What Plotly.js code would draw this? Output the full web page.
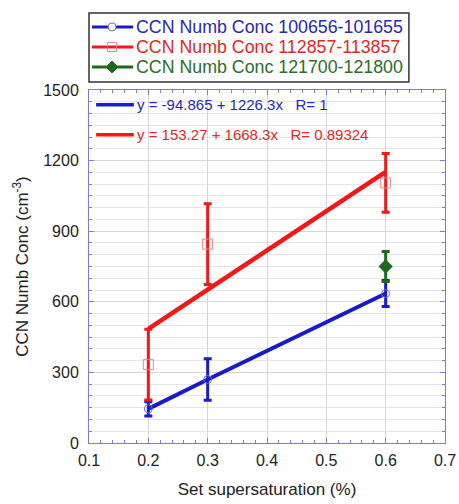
<!DOCTYPE html>
<html>
<head>
<meta charset="utf-8">
<script src="https://cdn.plot.ly/plotly-3.0.1.min.js"></script>
<style>body{margin:0;background:#fff}#chart{width:459px;height:504px}</style>
</head>
<body>
<div id="chart"></div>
<script>
// Data
const xSS = [0.2, 0.3, 0.6];
const blueY = [145, 270, 635];
const blueErr = [30, 88, 55];
const redY = [333, 845, 1105];
const redErrPlus = [150, 172, 125];
const redErrMinus = [150, 172, 125];
const redFitX = [0.2, 0.6];
const redFitY = [485, 1152];
const greenX = [0.6];
const greenY = [750];
const greenErr = [64];
const seriesNames = ["CCN Numb Conc 100656-101655", "CCN Numb Conc 112857-113857", "CCN Numb Conc 121700-121800"];
const fitTexts = ["y = -94.865 + 1226.3x   R= 1", "y = 153.27 + 1668.3x   R= 0.89324"];

const BLUE = "#1a1ac8", RED = "#f01818", GREEN = "#1d6a1d";
const BLUE_T = "#2828b4", RED_T = "#e02828", GREEN_T = "#2a6e2a";
const FONT = "Liberation Sans, Arial, sans-serif";

const traces = [
  { x: xSS, y: blueY, mode: "lines+markers", showlegend: false,
    line: {color: BLUE, width: 4},
    marker: {symbol: "circle-open", size: 8, color: "#6a6ae0", line: {width: 1}},
    error_y: {type: "data", array: blueErr, color: BLUE, thickness: 3, width: 4} },
  { x: redFitX, y: redFitY, mode: "lines", showlegend: false,
    line: {color: RED, width: 4.5} },
  { x: xSS, y: redY, mode: "markers", showlegend: false,
    marker: {symbol: "square-open", size: 10, color: "#f08080", line: {width: 1}},
    error_y: {type: "data", symmetric: false, array: redErrPlus, arrayminus: redErrMinus, color: RED, thickness: 3, width: 4} },
  { x: greenX, y: greenY, mode: "markers", showlegend: false,
    marker: {symbol: "diamond", size: 11, color: GREEN},
    error_y: {type: "data", array: greenErr, color: GREEN, thickness: 3, width: 4} }
];

const axisCommon = {
  showline: true, linecolor: "#7b7be6", linewidth: 1, mirror: "ticks",
  ticks: "inside", ticklen: 5, tickcolor: "#7b7be6",
  gridcolor: "#d6d6d6", gridwidth: 1, zeroline: false,
  tickfont: {family: FONT, size: 16, color: "#222"}
};

// manual legend geometry (paper coordinates)
const legRows = [1.1785, 1.1218, 1.0652];
const legColors = [BLUE, RED, GREEN];
const legTextColors = [BLUE_T, RED_T, GREEN_T];
const shapes = [
  {type: "rect", xref: "paper", yref: "paper", x0: 0, x1: 0.8986, y0: 1.0227, y1: 1.2181,
    fillcolor: "#fff", line: {color: "#333", width: 1.5}},
  {type: "line", xref: "paper", yref: "paper", x0: 0.02, x1: 0.126, y0: 0.958, y1: 0.958, line: {color: BLUE, width: 3.5}},
  {type: "line", xref: "paper", yref: "paper", x0: 0.02, x1: 0.126, y0: 0.873, y1: 0.873, line: {color: RED, width: 3.5}}
];
legRows.forEach((yy, i) => {
  shapes.push({type: "line", xref: "paper", yref: "paper", x0: 0.0085, x1: 0.124, y0: yy, y1: yy,
    line: {color: legColors[i], width: 3}});
});
shapes.push({type: "circle", xref: "paper", yref: "paper", xsizemode: "pixel", ysizemode: "pixel",
  xanchor: 0.0648, yanchor: legRows[0], x0: -4, x1: 4, y0: -4, y1: 4, fillcolor: "#fff", line: {color: "#6a6ae0", width: 1}});
shapes.push({type: "rect", xref: "paper", yref: "paper", xsizemode: "pixel", ysizemode: "pixel",
  xanchor: 0.0648, yanchor: legRows[1], x0: -4.5, x1: 4.5, y0: -4.5, y1: 4.5, fillcolor: "rgba(255,255,255,0)", line: {color: "#f08080", width: 1}});
shapes.push({type: "path", xref: "paper", yref: "paper", xsizemode: "pixel", ysizemode: "pixel",
  xanchor: 0.0648, yanchor: legRows[2], path: "M -6 0 L 0 6 L 6 0 L 0 -6 Z", fillcolor: GREEN, line: {color: GREEN, width: 1}});

const annotations = [
  {xref: "paper", yref: "paper", x: 0.128, y: 0.958, xanchor: "left", yanchor: "middle", showarrow: false,
    text: fitTexts[0].replace(/   /g, "&nbsp;&nbsp;&nbsp;"), font: {family: FONT, size: 15, color: BLUE_T}},
  {xref: "paper", yref: "paper", x: 0.128, y: 0.873, xanchor: "left", yanchor: "middle", showarrow: false,
    text: fitTexts[1].replace(/   /g, "&nbsp;&nbsp;&nbsp;"), font: {family: FONT, size: 15, color: RED_T}}
];
legRows.forEach((yy, i) => {
  annotations.push({xref: "paper", yref: "paper", x: 0.125, y: yy, xanchor: "left", yanchor: "middle", showarrow: false,
    text: seriesNames[i], font: {family: FONT, size: 17.8, color: legTextColors[i]}});
});

const layout = {
  width: 459, height: 504,
  margin: {l: 89, r: 14, t: 90, b: 61},
  paper_bgcolor: "#fff", plot_bgcolor: "#fff",
  showlegend: false,
  xaxis: Object.assign({}, axisCommon, {
    range: [0.1, 0.7], dtick: 0.1, tick0: 0.1, tickformat: ".1f", ticklabelstandoff: 3,
    minor: {dtick: 0.02, ticks: "inside", ticklen: 3, tickcolor: "#7b7be6", showgrid: false},
    title: {text: "Set supersaturation (%)", standoff: 14,
      font: {family: FONT, size: 17, color: "#222"}}
  }),
  yaxis: Object.assign({}, axisCommon, {
    range: [0, 1500], dtick: 300, tick0: 0, ticklabelstandoff: 6,
    minor: {dtick: 50, ticks: "inside", ticklen: 3, tickcolor: "#7b7be6", showgrid: true, gridcolor: "#e6e6e6"},
    title: {text: "CCN Numb Conc (cm<sup>-3</sup>)", standoff: 10,
      font: {family: FONT, size: 17, color: "#222"}}
  }),
  shapes: shapes,
  annotations: annotations
};

Plotly.newPlot("chart", traces, layout, {displayModeBar: false, staticPlot: true});
</script>
</body>
</html>
